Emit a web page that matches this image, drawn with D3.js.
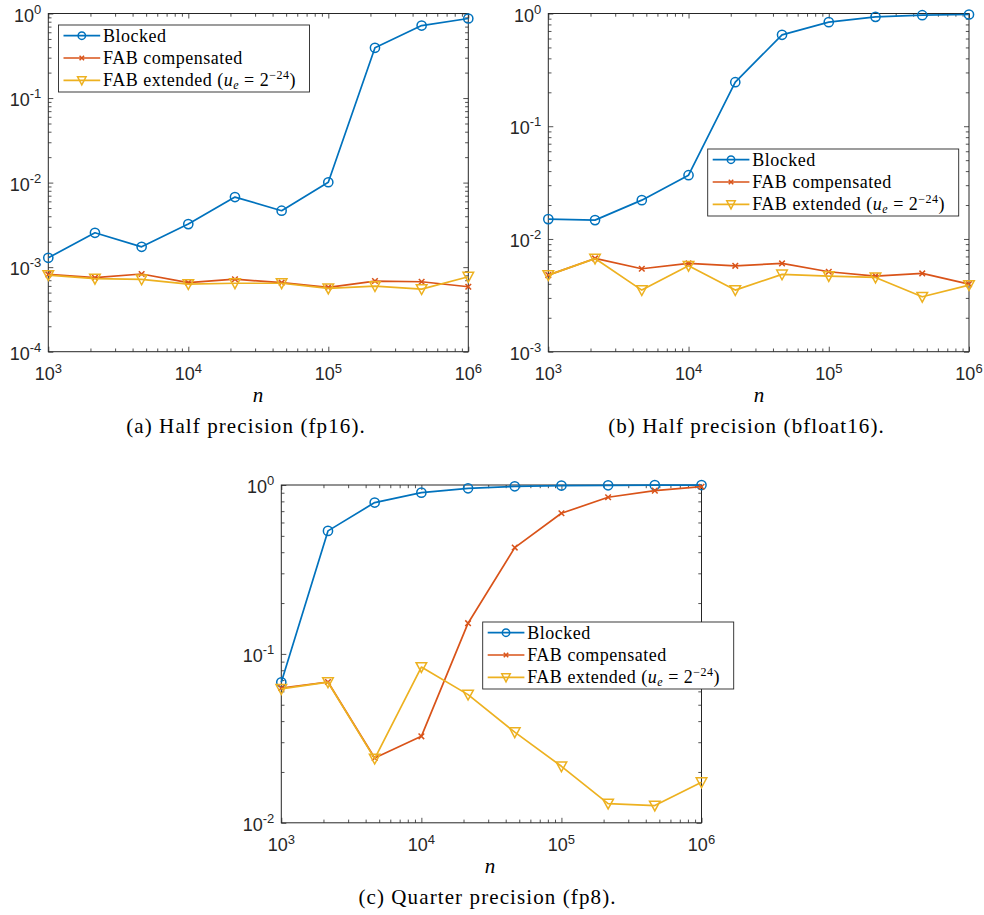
<!DOCTYPE html>
<html lang="en">
<head>
<meta charset="UTF-8">
<title>Blocked vs FAB summation error</title>
<script src="https://d3js.org/d3.v7.min.js"></script>
<style>
    body { margin: 0; background: #fff; }
    svg { display: block; }
    .frame { fill: none; stroke: #262626; stroke-width: 1; }
    .axis path { display: none; }
    .axis line { stroke: #262626; stroke-width: 0.8; }
    .tick-label { font-family: "Liberation Sans", Arial, sans-serif; fill: #262626; }
    .serif { font-family: "Liberation Serif", "Times New Roman", serif; fill: #000; }
    .series { fill: none; stroke-width: 1.7; stroke-linejoin: round; }
</style>
</head>
<body>
<div id="chart"></div>
<script>
    // problem sizes n (logspace 10^3 .. 10^6, 10 points)
    const nValues = [1000, 2154, 4642, 10000, 21544, 46416, 100000, 215443, 464159, 1000000];
    const xTicks = [1e3, 1e4, 1e5, 1e6];
    const seriesNames = ["Blocked", "FAB compensated", "FAB extended"];

    // (a) half precision fp16
    const fp16Blocked = [1.29e-3, 2.55e-3, 1.74e-3, 3.23e-3, 6.74e-3, 4.65e-3, 1.01e-2, 0.393, 0.72, 0.873];
    const fp16Comp    = [8.2e-4, 7.5e-4, 8.3e-4, 6.55e-4, 7.2e-4, 6.55e-4, 5.77e-4, 6.85e-4, 6.72e-4, 5.86e-4];
    const fp16Ext     = [8.05e-4, 7.3e-4, 7.17e-4, 6.3e-4, 6.45e-4, 6.45e-4, 5.6e-4, 5.97e-4, 5.5e-4, 7.7e-4];
    const fp16YTicks  = [1e-4, 1e-3, 1e-2, 1e-1, 1];

    // (b) half precision bfloat16
    const bfBlocked = [0.0150, 0.0147, 0.0221, 0.0368, 0.246, 0.647, 0.838, 0.934, 0.966, 0.98];
    const bfComp    = [4.78e-3, 6.72e-3, 5.44e-3, 6.07e-3, 5.78e-3, 6.07e-3, 5.12e-3, 4.69e-3, 4.95e-3, 3.98e-3];
    const bfExt     = [4.78e-3, 6.7e-3, 3.52e-3, 5.78e-3, 3.52e-3, 4.85e-3, 4.69e-3, 4.56e-3, 3.07e-3, 3.9e-3];
    const bfYTicks  = [1e-3, 1e-2, 1e-1, 1];

    // (c) quarter precision fp8
    const fp8Blocked = [0.0679, 0.535, 0.787, 0.901, 0.956, 0.982, 0.992, 0.996, 0.998, 0.999];
    const fp8Comp    = [0.0628, 0.0682, 0.0242, 0.0325, 0.152, 0.426, 0.680, 0.846, 0.926, 0.977];
    const fp8Ext     = [0.062, 0.068, 0.024, 0.0836, 0.0574, 0.0344, 0.0216, 0.0130, 0.01265, 0.0174];
    const fp8YTicks  = [1e-2, 1e-1, 1];

    const colors = ["#0072BD", "#D95319", "#EDB120"];
    const markers = ["circle", "cross", "triangle"];

    const svg = d3.select("#chart").append("svg")
        .attr("width", 984)
        .attr("height", 915);

    function marker(g, type, cx, cy, color, s) {
        if (type === "circle") {
            g.append("circle").attr("cx", cx).attr("cy", cy).attr("r", 4.6 * s)
                .attr("fill", "none").attr("stroke", color).attr("stroke-width", 1.5);
        } else if (type === "cross") {
            const h = 2.8 * s;
            g.append("path")
                .attr("d", `M${cx - h},${cy - h}L${cx + h},${cy + h}M${cx - h},${cy + h}L${cx + h},${cy - h}`)
                .attr("stroke", color).attr("stroke-width", 1.5);
        } else {
            const w = 5.3 * s, t = 4.4 * s;
            g.append("path")
                .attr("d", `M${cx - w},${cy - t}L${cx + w},${cy - t}L${cx},${cy + t + 1}Z`)
                .attr("fill", "none").attr("stroke", color).attr("stroke-width", 1.5);
        }
    }

    function minorTicks(lo, hi) {
        const out = [];
        for (let e = Math.round(Math.log10(lo)); e < Math.round(Math.log10(hi)); e++) {
            for (let k = 2; k <= 9; k++) out.push(k * Math.pow(10, e));
        }
        return out;
    }

    function drawPanel(cfg) {
        const g = svg.append("g");
        const x = d3.scaleLog().domain([1e3, 1e6]).range([cfg.left, cfg.right]);
        const y = d3.scaleLog().domain([cfg.yTicks[0], 1]).range([cfg.bottom, cfg.top]);

        // ticks pointing inward on all four sides
        const xMinor = minorTicks(1e3, 1e6);
        const yMinor = minorTicks(cfg.yTicks[0], 1);
        const axes = [
            [d3.axisBottom(x).tickValues(xTicks).tickSize(-5), `translate(0,${cfg.bottom})`],
            [d3.axisBottom(x).tickValues(xMinor).tickSize(-3.2), `translate(0,${cfg.bottom})`],
            [d3.axisTop(x).tickValues(xTicks).tickSize(-5), `translate(0,${cfg.top})`],
            [d3.axisTop(x).tickValues(xMinor).tickSize(-3.2), `translate(0,${cfg.top})`],
            [d3.axisLeft(y).tickValues(cfg.yTicks).tickSize(-5), `translate(${cfg.left},0)`],
            [d3.axisLeft(y).tickValues(yMinor).tickSize(-3.2), `translate(${cfg.left},0)`],
            [d3.axisRight(y).tickValues(cfg.yTicks).tickSize(-5), `translate(${cfg.right},0)`],
            [d3.axisRight(y).tickValues(yMinor).tickSize(-3.2), `translate(${cfg.right},0)`]
        ];
        axes.forEach(([ax, tr]) => {
            const a = g.append("g").attr("class", "axis").attr("transform", tr)
                .call(ax.tickFormat("").tickSizeOuter(0));
            a.selectAll("text").remove();
        });

        g.append("rect").attr("class", "frame")
            .attr("x", cfg.left).attr("y", cfg.top)
            .attr("width", cfg.right - cfg.left).attr("height", cfg.bottom - cfg.top);

        // x tick labels
        xTicks.forEach(v => {
            const t = g.append("text").attr("class", "tick-label")
                .attr("x", x(v)).attr("y", cfg.bottom + 28)
                .attr("text-anchor", "middle");
            t.append("tspan").attr("font-size", 18).text("10");
            t.append("tspan").attr("font-size", 13).attr("dy", -7).text(Math.round(Math.log10(v)));
        });

        // y tick labels
        cfg.yTicks.forEach(v => {
            const t = g.append("text").attr("class", "tick-label")
                .attr("x", cfg.left - 7).attr("y", y(v) + 8)
                .attr("text-anchor", "end");
            t.append("tspan").attr("font-size", 18).text("10");
            const e = Math.round(Math.log10(v));
            t.append("tspan").attr("font-size", 13).attr("dy", -8).text(e === 0 ? "0" : "-" + Math.abs(e));
        });

        // series
        const line = d3.line().x((d, i) => x(nValues[i])).y(d => y(d));
        cfg.series.forEach((vals, si) => {
            g.append("path").attr("class", "series")
                .attr("stroke", colors[si]).attr("d", line(vals));
            vals.forEach((v, i) => marker(g, markers[si], x(nValues[i]), y(v), colors[si], 1));
        });

        // axis label
        g.append("text").attr("class", "serif")
            .attr("x", cfg.nx).attr("y", cfg.bottom + 50)
            .attr("text-anchor", "middle").attr("font-size", 21)
            .attr("font-style", "italic").text("n");

        // caption
        g.append("text").attr("class", "serif")
            .attr("x", cfg.capX).attr("y", cfg.bottom + 81)
            .attr("text-anchor", "middle").attr("font-size", 21)
            .attr("letter-spacing", 1.1)
            .text(cfg.caption);

        // legend
        const lg = g.append("g").attr("transform", `translate(${cfg.legX},${cfg.legY})`);
        lg.append("rect").attr("width", 251).attr("height", 67)
            .attr("fill", "#fff").attr("stroke", "#262626").attr("stroke-width", 0.9);
        seriesNames.forEach((name, si) => {
            const ry = 10.7 + si * 22.3;
            lg.append("line").attr("x1", 5).attr("x2", 41.7).attr("y1", ry).attr("y2", ry)
                .attr("stroke", colors[si]).attr("stroke-width", 1.7);
            marker(lg, markers[si], 23.3, ry, colors[si], 0.8);
            const t = lg.append("text").attr("class", "serif")
                .attr("x", 44.5).attr("y", ry + 6)
                .attr("font-size", 18).attr("letter-spacing", 0.5);
            t.append("tspan").text(si === 2 ? name + " (" : name);
            if (si === 2) {
                t.append("tspan").attr("font-style", "italic").text("u");
                t.append("tspan").attr("font-style", "italic").attr("font-size", 12).attr("dy", 3).text("e");
                t.append("tspan").attr("dy", -3).text(" = 2");
                t.append("tspan").attr("font-size", 12).attr("dy", -7).text("\u221224");
                t.append("tspan").attr("dy", 7).text(")");
            }
        });
    }

    drawPanel({
        left: 48.3, right: 468.3, top: 13.5, bottom: 351.7,
        yTicks: fp16YTicks, series: [fp16Blocked, fp16Comp, fp16Ext],
        legX: 58.5, legY: 25, nx: 258, capX: 246,
        caption: "(a) Half precision (fp16)."
    });
    drawPanel({
        left: 548.3, right: 969, top: 13.5, bottom: 351.7,
        yTicks: bfYTicks, series: [bfBlocked, bfComp, bfExt],
        legX: 707.7, legY: 149, nx: 759, capX: 746.5,
        caption: "(b) Half precision (bfloat16)."
    });
    drawPanel({
        left: 281.3, right: 701.5, top: 485, bottom: 822.8,
        yTicks: fp8YTicks, series: [fp8Blocked, fp8Comp, fp8Ext],
        legX: 482.7, legY: 622, nx: 490, capX: 487.5,
        caption: "(c) Quarter precision (fp8)."
    });
</script>
</body>
</html>
